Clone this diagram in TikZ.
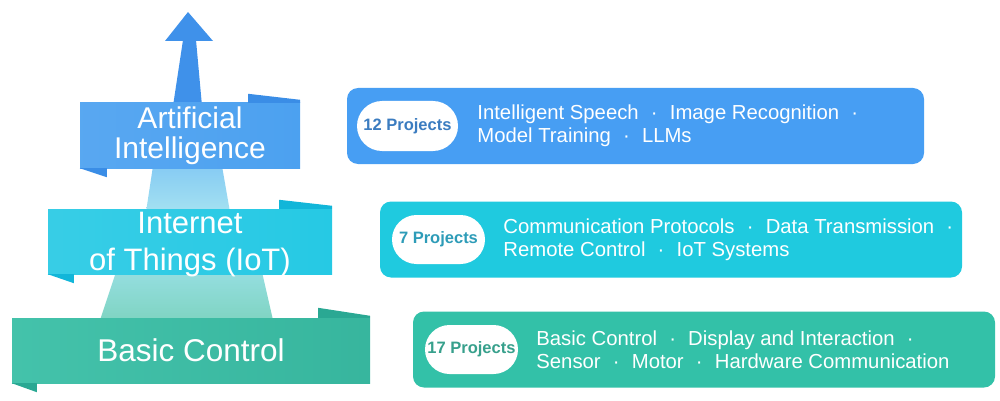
\documentclass[tikz,border=0pt]{standalone}
\usepackage{fontspec}
\setmainfont{Liberation Sans}
\usepackage{tikz}
\usetikzlibrary{positioning,shapes.misc}
\usepackage{xcolor}
\definecolor{aiblue}{HTML}{4CA1F0}
\definecolor{aiflap}{HTML}{3A8DE6}
\definecolor{aiarrow}{HTML}{3F91EA}
\definecolor{iotcyan}{HTML}{26C9E4}
\definecolor{iotflap}{HTML}{12B6D9}
\definecolor{ctrlteal}{HTML}{3ABFA6}
\definecolor{ctrlflap}{HTML}{2AA893}
\definecolor{skytop}{HTML}{86CBF3}
\definecolor{skybot}{HTML}{A4E1F1}
\definecolor{minttop}{HTML}{95DEE0}
\definecolor{mintbot}{HTML}{7FD4C2}
\definecolor{aicard}{HTML}{479EF3}
\definecolor{iotcard}{HTML}{1FCADF}
\definecolor{ctrlcard}{HTML}{33C1A8}
\definecolor{aitext}{HTML}{3B7CC0}
\definecolor{iottext}{HTML}{2E9CB8}
\definecolor{ctrltext}{HTML}{37A08C}
\newcommand{\sepdot}{\hspace{0.6em}·\hspace{0.6em}}

\begin{document}
\begin{tikzpicture}[x=1pt,y=-1pt,
  band/.style={rectangle,text=white,align=center,minimum height=65pt,inner sep=0pt},
  card/.style={rectangle,rounded corners=11pt,minimum height=76pt,inner sep=0pt},
  pill/.style={rounded rectangle,fill=white,minimum height=50pt,minimum width=96pt,
    inner sep=0pt,font=\bfseries\fontsize{16.5}{18}\selectfont},
  topics/.style={text=white,align=left,inner sep=0pt,font=\fontsize{20.3}{23.5}\selectfont}
]
\useasboundingbox (0,0) rectangle (1000,401);

% Left: rising arrow and the steps between the bands
\fill[aiarrow] (188,12) -- (213,41) -- (165,41) -- cycle;
\fill[aiarrow] (183,40) -- (196,40) -- (202,106) -- (173,106) -- cycle;
\shade[top color=skytop,bottom color=skybot] (153,166) -- (222,166) -- (230,212) -- (146,212) -- cycle;
\shade[top color=minttop,bottom color=mintbot] (116,272) -- (262,272) -- (273,320) -- (100,320) -- cycle;

% Left: the three bands
\node[band,minimum width=220pt,left color=aiblue!93!white,right color=aiblue,
  font=\fontsize{30}{30}\selectfont] (aiband) at (190,135.5) {Artificial\\Intelligence};
\fill[aiflap] (aiband.north east) -- ++(0,-3) -- ++(-52,-6) -- ++(0,9) -- cycle;
\fill[aiflap] (aiband.south west) -- ++(27,0) -- ++(0,9) -- cycle;

\node[band,minimum width=284pt,left color=iotcyan!92!white,right color=iotcyan,
  font=\fontsize{31}{37}\selectfont] (iotband) at (190,241.5) {};
\node[text=white,align=center,inner sep=0pt,font=\fontsize{31}{37}\selectfont]
  (iotlabel) at ([yshift=-3pt]iotband.center) {Internet\\of Things (IoT)};
\fill[iotflap] (iotband.north east) -- ++(0,-3) -- ++(-53,-6) -- ++(0,9) -- cycle;
\fill[iotflap] (iotband.south west) -- ++(26,0) -- ++(0,9) -- cycle;

\node[band,minimum width=358pt,left color=ctrlteal!95!white,right color=ctrlteal!95!black,
  font=\fontsize{31.5}{34}\selectfont] (ctrlband) at (191,350.5) {Basic Control};
\fill[ctrlflap] (ctrlband.north east) -- ++(0,-2) -- ++(-52,-8) -- ++(0,10) -- cycle;
\fill[ctrlflap] (ctrlband.south west) -- ++(25,0) -- ++(0,9) -- cycle;

% Right: project cards
\node[card,fill=aicard,minimum width=577pt] (aicard) at (635.5,126) {};
\node[pill,text=aitext,minimum width=101pt,right=10pt of aicard.west] (aipill) {12 Projects};
\node[topics,right=19pt of aipill] (aitopics)
  {Intelligent Speech\sepdot Image Recognition\sepdot\\Model Training\sepdot LLMs};

\node[card,fill=iotcard,minimum width=582pt] (iotcard) at (671,239.5) {};
\node[pill,text=iottext,minimum width=93pt,minimum height=49pt,right=12pt of iotcard.west] (iotpill) {7 Projects};
\node[topics,right=18pt of iotpill] (iottopics)
  {Communication Protocols\sepdot Data Transmission\sepdot\\Remote Control\sepdot IoT Systems};

\node[card,fill=ctrlcard,minimum width=582pt] (ctrlcard) at (704,349.5) {};
\node[pill,text=ctrltext,minimum width=93pt,minimum height=49pt,right=12pt of ctrlcard.west] (ctrlpill) {17 Projects};
\node[topics,right=18pt of ctrlpill] (ctrltopics)
  {Basic Control\sepdot Display and Interaction\sepdot\\Sensor\sepdot Motor\sepdot Hardware Communication};

\end{tikzpicture}
\end{document}
